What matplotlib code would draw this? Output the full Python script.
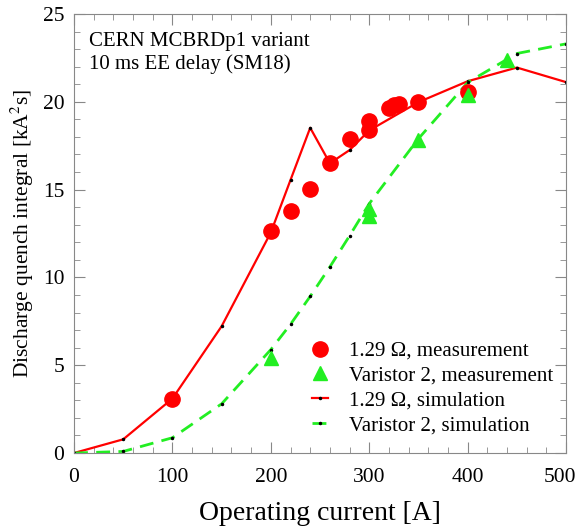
import numpy as np
import matplotlib.pyplot as plt
from matplotlib.ticker import MultipleLocator

plt.rcParams['font.family'] = ['Liberation Serif', 'DejaVu Serif']
plt.rcParams['mathtext.fontset'] = 'stix'

# 1.29 Ohm simulation
sim_r_x = [0, 50, 100, 150, 200, 220, 240, 260, 280, 300, 350, 400, 450, 500]
sim_r_y = [0, 0.78, 3.1, 7.22, 12.56, 15.55, 18.52, 16.5, 17.25, 18.37, 19.98, 21.17, 21.95, 21.12]

# Varistor 2 simulation
sim_g_x = [0, 50, 100, 150, 200, 220, 240, 260, 280, 300, 350, 400, 450, 500]
sim_g_y = [0, 0.09, 0.87, 2.8, 5.89, 7.33, 8.92, 10.6, 12.37, 14.2, 17.9, 21.1, 22.75, 23.3]

# 1.29 Ohm measurement
meas_r_x = [100, 200, 220, 240, 260, 280, 300, 300, 320, 325, 330, 350, 400]
meas_r_y = [3.1, 12.65, 13.79, 15.06, 16.5, 17.86, 18.37, 18.9, 19.66, 19.8, 19.85, 19.98, 20.57]

# Varistor 2 measurement
meas_g_x = [200, 300, 300, 350, 400, 440]
meas_g_y = [5.4, 13.5, 13.88, 17.85, 20.4, 22.4]

x_ticks = [0, 100, 200, 300, 400, 500]

red = '#ff0000'
green = '#22ee22'

fig = plt.figure(figsize=(5.8, 5.28), dpi=100)
ax = fig.add_axes([0.1276, 0.142, 0.8484, 0.8315])

ax.plot(meas_r_x, meas_r_y, 'o', color=red, ms=11, ls='none', label='1.29 Ω, measurement', zorder=3)
ax.plot(meas_g_x, meas_g_y, '^', color=green, ms=10, ls='none', label='Varistor 2, measurement', zorder=3)
ax.plot(sim_r_x, sim_r_y, '-', color=red, lw=1.6, marker='.', ms=3, mfc='black', mec='black',
        label='1.29 Ω, simulation', zorder=2)
ax.plot(sim_g_x, sim_g_y, '--', color=green, lw=2, dashes=(5, 3), marker='.', ms=3, mfc='black', mec='black',
        label='Varistor 2, simulation', zorder=2)

ax.set_xlim(0, 500)
ax.set_ylim(0, 25)
ax.set_xticks(x_ticks)
# last label would hang off the figure edge, it gets drawn separately below
ax.set_xticklabels([str(t) for t in x_ticks[:-1]] + [''])
ax.xaxis.set_minor_locator(MultipleLocator(20))
ax.yaxis.set_major_locator(MultipleLocator(5))
ax.yaxis.set_minor_locator(MultipleLocator(1))
ax.tick_params(which='both', direction='in', top=True, right=True, color='#888888', labelsize=15.5)
ax.tick_params(which='major', length=8, pad=7)
ax.tick_params(which='minor', length=4)
ax.tick_params(axis='x', which='major', pad=11)
for s in ax.spines.values():
    s.set_color('#888888')

ax.annotate(str(x_ticks[-1]), xy=(x_ticks[-1], 0), xycoords=('data', 'axes fraction'),
            xytext=(-4.5, -11), textcoords='offset points', ha='center', va='top', fontsize=15.5)

ax.set_xlabel('Operating current [A]', fontsize=20, labelpad=10)
ax.set_ylabel('Discharge quench integral [kA$^2$s]', fontsize=15.5, labelpad=5)

ax.text(0.03, 0.96, 'CERN MCBRDp1 variant\n10 ms EE delay (SM18)', transform=ax.transAxes,
        fontsize=15, va='top', ha='left', linespacing=1.25)

ax.legend(loc='lower right', frameon=False, fontsize=15, handlelength=0.8, handletextpad=1.0,
          labelspacing=0.25, borderaxespad=0.2, bbox_to_anchor=(1.0, 0.012))

fig.savefig('out.png', dpi=100)
